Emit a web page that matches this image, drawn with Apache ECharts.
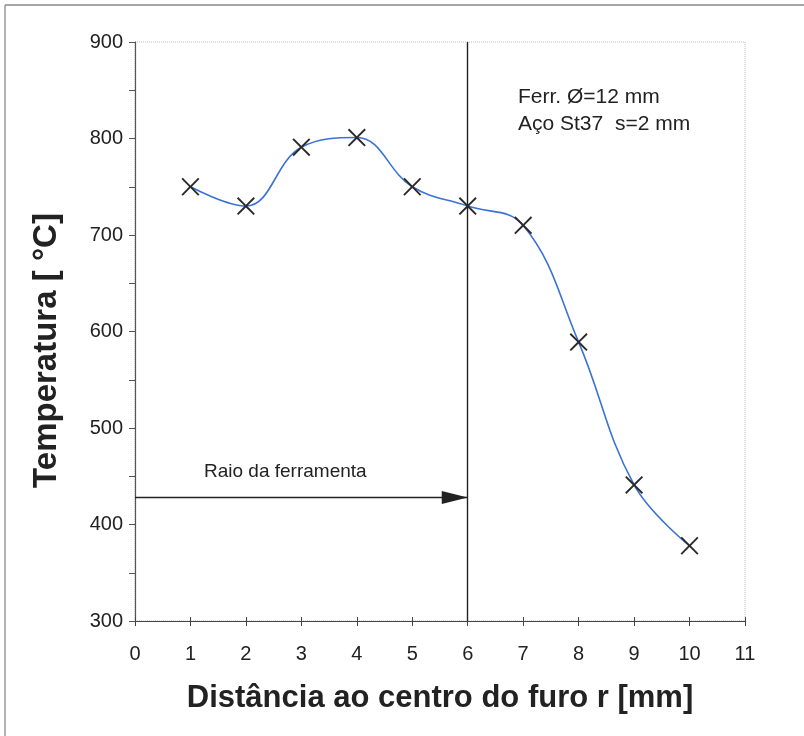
<!DOCTYPE html>
<html>
<head>
<meta charset="utf-8">
<script src="https://cdn.jsdelivr.net/npm/echarts@6/dist/echarts.min.js"></script>
<style>html,body{margin:0;padding:0;background:#fff;}#c{width:804px;height:736px;}</style>
</head>
<body>
<div id="c"></div>
<script>
// Data
var distances = [1, 2, 3, 4, 5, 6, 7, 8, 9, 10];
var temperatures = [750, 730, 791, 801, 750, 730, 710, 589, 441, 378];
var xTicks = [0, 1, 2, 3, 4, 5, 6, 7, 8, 9, 10, 11];
var yTicks = [300, 400, 500, 600, 700, 800, 900];
var toolRadius = 6;
var arrowLevel = 428;
var arrowLabel = 'Raio da ferramenta';
var noteLines = ['Ferr. Ø=12 mm', 'Aço St37  s=2 mm'];
var xTitle = 'Distância ao centro do furo r [mm]';
var yTitle = 'Temperatura [ °C]';

var points = distances.map(function (d, i) { return [d, temperatures[i]]; });
var font = '"Liberation Sans", Arial, sans-serif';
var xPath = 'path://M0,1.5L1.5,0L10,8.5L18.5,0L20,1.5L11.5,10L20,18.5L18.5,20L10,11.5L1.5,20L0,18.5L8.5,10Z';

var chart = echarts.init(document.getElementById('c'), null, {renderer: 'canvas'});
chart.setOption({
  animation: false,
  backgroundColor: '#fff',
  grid: {left: 135, right: 59, top: 42, bottom: 115, show: true, borderColor: '#bdbdbd', borderWidth: 1, borderType: 'dotted'},
  xAxis: [{
    type: 'value', min: xTicks[0], max: xTicks[xTicks.length - 1], interval: 1,
    position: 'bottom',
    axisLine: {show: true, onZero: false, lineStyle: {color: '#444', width: 1.2}},
    axisTick: {show: true, length: 5, lineStyle: {color: '#444'}},
    axisLabel: {fontFamily: font, fontSize: 20, color: '#222', margin: 23},
    splitLine: {show: false},
    name: xTitle, nameLocation: 'middle', nameGap: 62,
    nameTextStyle: {fontFamily: font, fontSize: 31, fontWeight: 'bold', color: '#222'}
  }, {
    type: 'value', min: xTicks[0], max: xTicks[xTicks.length - 1], interval: 1,
    position: 'bottom',
    axisLine: {show: false},
    axisTick: {show: true, inside: true, length: 4, lineStyle: {color: '#444'}},
    axisLabel: {show: false}, splitLine: {show: false}
  }],
  yAxis: {
    type: 'value', min: yTicks[0], max: yTicks[yTicks.length - 1], interval: 50,
    axisLine: {show: true, onZero: false, lineStyle: {color: '#555', width: 1.2}},
    axisTick: {show: true, length: 6, lineStyle: {color: '#555'}},
    axisLabel: {fontFamily: font, fontSize: 20, color: '#222', margin: 12,
      formatter: function (v) { return yTicks.indexOf(v) >= 0 ? String(v) : ''; }},
    splitLine: {show: false},
    name: yTitle, nameLocation: 'middle', nameGap: 72, nameRotate: 90,
    nameTextStyle: {fontFamily: font, fontSize: 33, fontWeight: 'bold', color: '#222', padding: [0, 38, 0, 0]}
  },
  series: [{
    type: 'line',
    data: points,
    smooth: 0.4,
    lineStyle: {color: '#3a72d6', width: 1.6},
    symbol: xPath, symbolSize: 18,
    itemStyle: {color: '#2a2a2a'},
    z: 3
  }, {
    type: 'line', data: [], silent: true,
    markLine: {
      silent: true, animation: false,
      label: {show: false},
      data: [
        [{coord: [toolRadius, yTicks[0]], symbol: 'none'}, {coord: [toolRadius, yTicks[yTicks.length - 1]], symbol: 'none'}],
        [{coord: [xTicks[0], arrowLevel], symbol: 'none'}, {coord: [toolRadius, arrowLevel], symbol: 'triangle', symbolSize: [13, 26], symbolOffset: [0, 13]}]
      ],
      lineStyle: {color: '#222', width: 1.4, type: 'solid'},
      itemStyle: {color: '#444'}
    }
  }],
  graphic: [
    {type: 'line', shape: {x1: 5, y1: 5, x2: 804, y2: 5}, style: {stroke: '#888', lineWidth: 1.5}},
    {type: 'line', shape: {x1: 5, y1: 5, x2: 5, y2: 736}, style: {stroke: '#999', lineWidth: 1.5}},
    {type: 'text', left: 204, top: 462, style: {text: arrowLabel, font: '19px ' + font, fill: '#222'}},
    {type: 'text', left: 518, top: 87, style: {text: noteLines[0], font: '21px ' + font, fill: '#222'}},
    {type: 'text', left: 518, top: 114, style: {text: noteLines[1], font: '21px ' + font, fill: '#222'}}
  ]
});
</script>
</body>
</html>
